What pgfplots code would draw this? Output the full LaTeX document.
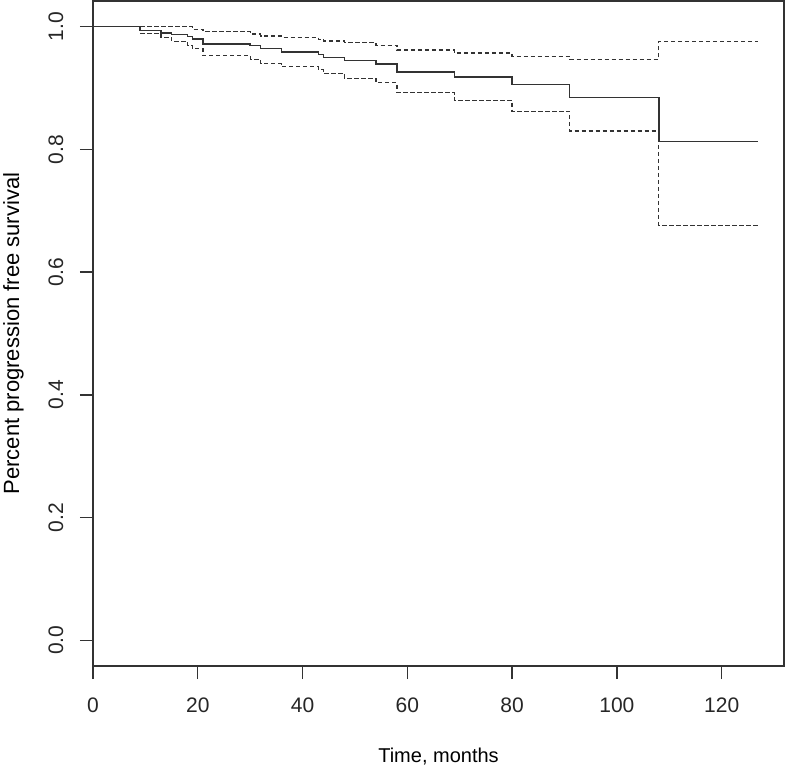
\documentclass[border=0pt]{standalone}
\usepackage{pgfplots}
\pgfplotsset{compat=1.18}
\usepackage{fontspec}
\setmainfont{Liberation Sans}
\begin{document}
\begin{tikzpicture}
\begin{axis}[
  scale only axis,
  width=345.5pt, height=332.5pt,
  xmin=0, xmax=131.9,
  ymin=-0.042, ymax=1.042,
  xtick={0,20,40,60,80,100,120},
  ytick={0,0.2,0.4,0.6,0.8,1.0},
  yticklabels={0.0,0.2,0.4,0.6,0.8,1.0},
  xtick pos=bottom, ytick pos=left,
  tick align=outside,
  major tick length=6.5pt,
  axis line style={black!80, line width=0.7pt},
  every tick/.style={black!80, line width=0.7pt},
  /pgf/number format/assume math mode=true,
  tick label style={font=\fontsize{10.5}{12.5}\selectfont, text=black!85},
  xticklabel style={yshift=-6pt},
  yticklabel style={rotate=90, anchor=south, yshift=4.75pt},
  label style={text=black!85},
  every axis x label/.style={at={(axis description cs:0.5,0)}, anchor=center, yshift=-45.5pt, font=\fontsize{10}{12}\selectfont},
  every axis y label/.style={at={(axis description cs:0,0.5)}, anchor=center, rotate=90, yshift=39.75pt, font=\fontsize{11}{13}\selectfont},
  xlabel={Time, months},
  ylabel={Percent progression free survival},
  clip=false,
]
% Kaplan-Meier estimate
\addplot[const plot, black!80, line width=0.7pt] coordinates {
(0,1) (9,0.9935) (13,0.990) (15,0.987) (18,0.984) (19,0.980) (21,0.972)
(30,0.969) (32,0.965) (36,0.959) (43,0.955) (44,0.950) (48,0.945)
(54,0.939) (58,0.926) (69,0.918) (80,0.906) (91,0.885) (108,0.8125) (127,0.8125)
};
% upper confidence limit
\addplot[const plot, black!80, line width=0.65pt, dash pattern=on 2.2pt off 1.3pt] coordinates {
(9,1) (19,0.996) (21,0.992) (30,0.988) (32,0.985) (36,0.983) (43,0.979)
(44,0.977) (48,0.974) (54,0.970) (58,0.962) (69,0.957) (80,0.952)
(91,0.947) (108,0.9756) (127,0.9756)
};
% lower confidence limit
\addplot[const plot, black!80, line width=0.65pt, dash pattern=on 2.2pt off 1.3pt] coordinates {
(9,0.989) (13,0.983) (15,0.976) (18,0.970) (19,0.964) (21,0.953)
(30,0.947) (32,0.940) (36,0.935) (43,0.930) (44,0.924) (48,0.916)
(54,0.909) (58,0.893) (69,0.880) (80,0.862) (91,0.830) (108,0.676) (127,0.676)
};
\end{axis}
\pgfresetboundingbox
\path[use as bounding box] (-46.5pt,-52pt) rectangle (347pt,333pt);
\end{tikzpicture}
\end{document}
